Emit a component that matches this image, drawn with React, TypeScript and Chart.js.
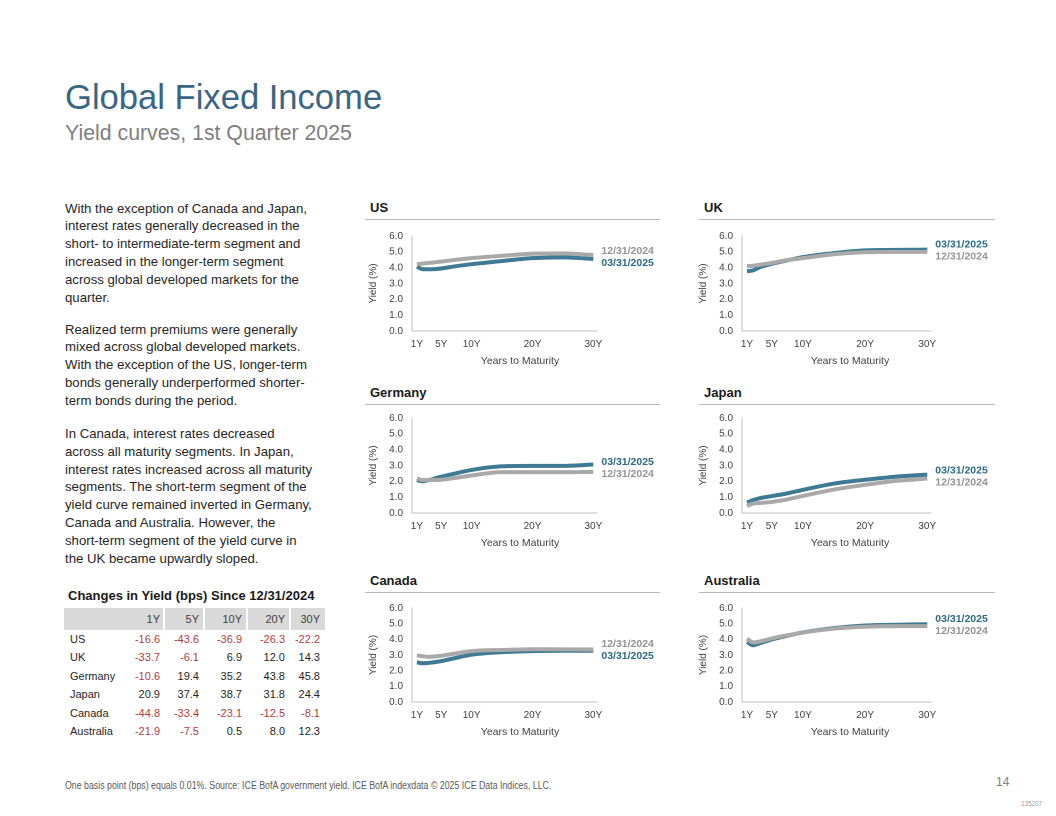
import React, { useEffect, useRef } from "react";
import { Chart, registerables } from "chart.js";

Chart.register(...registerables);

// ---------- DATA ----------
const maturities = [1, 2, 3, 5, 7, 10, 15, 20, 25, 30];
const xTickYears = [1, 5, 10, 20, 30];
const seriesLabels = ["12/31/2024", "03/31/2025"];

const usDec2024 = [4.22, 4.26, 4.3, 4.38, 4.48, 4.6, 4.75, 4.88, 4.9, 4.8];
const usMar2025 = [4.07, 3.9, 3.9, 3.95, 4.07, 4.22, 4.42, 4.6, 4.65, 4.55];
const ukDec2024 = [4.1, 4.12, 4.18, 4.3, 4.45, 4.6, 4.85, 4.97, 5.0, 5.0];
const ukMar2025 = [3.78, 3.83, 4.02, 4.24, 4.42, 4.67, 4.92, 5.09, 5.12, 5.14];
const deDec2024 = [2.18, 2.08, 2.08, 2.1, 2.2, 2.37, 2.58, 2.58, 2.58, 2.6];
const deMar2025 = [2.08, 2.0, 2.08, 2.29, 2.47, 2.72, 2.95, 2.98, 2.98, 3.06];
const jpDec2024 = [0.45, 0.6, 0.63, 0.7, 0.82, 1.08, 1.48, 1.78, 2.03, 2.18];
const jpMar2025 = [0.66, 0.82, 0.93, 1.07, 1.2, 1.46, 1.86, 2.1, 2.3, 2.42];
const caDec2024 = [2.98, 2.92, 2.88, 2.95, 3.08, 3.25, 3.32, 3.37, 3.36, 3.35];
const caMar2025 = [2.53, 2.47, 2.5, 2.61, 2.78, 3.02, 3.18, 3.25, 3.27, 3.27];
const auDec2024 = [4.04, 3.8, 3.86, 4.06, 4.22, 4.43, 4.68, 4.8, 4.84, 4.84];
const auMar2025 = [3.83, 3.62, 3.74, 3.99, 4.18, 4.44, 4.72, 4.88, 4.93, 4.96];

const tableTitle = "Changes in Yield (bps) Since 12/31/2024";
const tableCols = ["1Y", "5Y", "10Y", "20Y", "30Y"];
const tableRowNames = ["US", "UK", "Germany", "Japan", "Canada", "Australia"];
const usChange = [-16.6, -43.6, -36.9, -26.3, -22.2];
const ukChange = [-33.7, -6.1, 6.9, 12.0, 14.3];
const deChange = [-10.6, 19.4, 35.2, 43.8, 45.8];
const jpChange = [20.9, 37.4, 38.7, 31.8, 24.4];
const caChange = [-44.8, -33.4, -23.1, -12.5, -8.1];
const auChange = [-21.9, -7.5, 0.5, 8.0, 12.3];
const tableValues = [usChange, ukChange, deChange, jpChange, caChange, auChange];

// ---------- STYLE ----------
const FONT = '"Liberation Sans", Arial, Helvetica, sans-serif';
const GRAY_LINE = "#a9a9a9";
const BLUE_LINE = "#3e7a93";
const GRAY_LABEL = "#939393";
const BLUE_LABEL = "#2c6b82";
const AXIS = "#bfbfbf";
const TICK = "#404040";
const NEG = "#b33c43";

const paragraphs = [
  [
    "With the exception of Canada and Japan,",
    "interest rates generally decreased in the",
    "short- to intermediate-term segment and",
    "increased in the longer-term segment",
    "across global developed markets for the",
    "quarter.",
  ],
  [
    "Realized term premiums were generally",
    "mixed across global developed markets.",
    "With the exception of the US, longer-term",
    "bonds generally underperformed shorter-",
    "term bonds during the period.",
  ],
  [
    "In Canada, interest rates decreased",
    "across all maturity segments. In Japan,",
    "interest rates increased across all maturity",
    "segments. The short-term segment of the",
    "yield curve remained inverted in Germany,",
    "Canada and Australia. However, the",
    "short-term segment of the yield curve in",
    "the UK became upwardly sloped.",
  ],
];
const paragraphTops = [199.6, 320.6, 425];

type Panel = { title: string; dec: number[]; mar: number[]; col: number; row: number };
const panels: Panel[] = [
  { title: "US", dec: usDec2024, mar: usMar2025, col: 0, row: 0 },
  { title: "UK", dec: ukDec2024, mar: ukMar2025, col: 1, row: 0 },
  { title: "Germany", dec: deDec2024, mar: deMar2025, col: 0, row: 1 },
  { title: "Japan", dec: jpDec2024, mar: jpMar2025, col: 1, row: 1 },
  { title: "Canada", dec: caDec2024, mar: caMar2025, col: 0, row: 2 },
  { title: "Australia", dec: auDec2024, mar: auMar2025, col: 1, row: 2 },
];

const colCanvasLeft = [360, 690];
const colCanvasWidth = [307, 311];
const colTitleLeft = [370, 704];
const colRuleLeft = [365, 699];
const colRuleWidth = [295, 296];
const rowRuleY = [219, 404, 592];
const rowAreaTop = [234, 416, 605.5];
const rowAreaBottom = [331, 513, 701];
const PAD_TOP = 13;
const X_AXIS_H = 40;
const Y_AXIS_W = 52;

function YieldChart({ panel }: { panel: Panel }) {
  const ref = useRef<HTMLCanvasElement>(null);
  const w = colCanvasWidth[panel.col];
  const plotH = rowAreaBottom[panel.row] - rowAreaTop[panel.row];
  const h = Math.round(plotH + PAD_TOP + X_AXIS_H);

  useEffect(() => {
    const endLabels = {
      id: "endLabels",
      afterDatasetsDraw(chart: any) {
        const ctx = chart.ctx;
        const items = chart.data.datasets.map((ds: any, i: number) => {
          const meta = chart.getDatasetMeta(i);
          const last = meta.data[meta.data.length - 1];
          return { text: ds.label, color: ds.labelColor, x: last.x, y: last.y };
        });
        items.sort((a: any, b: any) => a.y - b.y);
        const sep = 12;
        if (items[1].y - items[0].y < sep) {
          const mid = (items[0].y + items[1].y) / 2;
          items[0].y = mid - sep / 2;
          items[1].y = mid + sep / 2;
        }
        ctx.save();
        ctx.font = `bold 10.5px ${FONT}`;
        ctx.textBaseline = "middle";
        ctx.textAlign = "left";
        items.forEach((it: any) => {
          ctx.fillStyle = it.color;
          ctx.fillText(it.text, it.x + 8, it.y);
        });
        ctx.restore();
      },
    };
    const xTitle = {
      id: "xTitle",
      afterDraw(chart: any) {
        const ctx = chart.ctx;
        const a = chart.chartArea;
        ctx.save();
        ctx.font = `10.5px ${FONT}`;
        ctx.fillStyle = TICK;
        ctx.textAlign = "center";
        ctx.textBaseline = "middle";
        ctx.fillText("Years to Maturity", a.left + 108, a.bottom + 30);
        ctx.restore();
      },
    };

    const chart = new Chart(ref.current as HTMLCanvasElement, {
      type: "line",
      data: {
        datasets: [
          {
            label: seriesLabels[0],
            data: maturities.map((m, i) => ({ x: m, y: panel.dec[i] })),
            borderColor: GRAY_LINE,
            labelColor: GRAY_LABEL,
          } as any,
          {
            label: seriesLabels[1],
            data: maturities.map((m, i) => ({ x: m, y: panel.mar[i] })),
            borderColor: BLUE_LINE,
            labelColor: BLUE_LABEL,
          } as any,
        ],
      },
      options: {
        animation: false,
        responsive: false,
        devicePixelRatio: 2,
        layout: { padding: { top: PAD_TOP, right: 70, left: 0, bottom: 0 } },
        plugins: { legend: { display: false }, tooltip: { enabled: false } },
        elements: {
          point: { radius: 0 },
          line: {
            borderWidth: 4,
            cubicInterpolationMode: "monotone",
            borderCapStyle: "butt",
            borderJoinStyle: "round",
          },
        },
        scales: {
          x: {
            type: "linear",
            min: 0.2,
            max: 30.6,
            afterBuildTicks: (s: any) => {
              s.ticks = xTickYears.map((v) => ({ value: v }));
            },
            afterFit: (s: any) => {
              s.height = X_AXIS_H;
            },
            grid: { display: false, drawTicks: false },
            border: { display: true, color: AXIS, width: 1 },
            ticks: {
              autoSkip: false,
              maxRotation: 0,
              padding: 7,
              color: TICK,
              font: { family: FONT, size: 10 },
              callback: (v: any) => `${v}Y`,
            },
          },
          y: {
            min: 0,
            max: 6,
            afterFit: (s: any) => {
              s.width = Y_AXIS_W;
            },
            grid: { display: false, drawTicks: false },
            border: { display: true, color: AXIS, width: 1 },
            ticks: {
              stepSize: 1,
              padding: 9,
              color: TICK,
              font: { family: FONT, size: 10 },
              callback: (v: any) => Number(v).toFixed(1),
            },
            title: {
              display: true,
              text: "Yield (%)",
              color: TICK,
              font: { family: FONT, size: 10 },
              padding: { top: 7, bottom: 0 },
            },
          },
        },
      } as any,
      plugins: [endLabels, xTitle],
    });
    return () => chart.destroy();
  }, [panel]);

  return (
    <canvas
      ref={ref}
      width={w}
      height={h}
      style={{
        position: "absolute",
        left: colCanvasLeft[panel.col],
        top: rowAreaTop[panel.row] - PAD_TOP,
        width: w,
        height: h,
      }}
    />
  );
}

function fmt(v: number) {
  return v.toFixed(1);
}

// header cells: [label + 1Y], 5Y, 10Y, 20Y, 30Y
const headerLefts = [64, 165, 205, 248, 291];
const headerRights = [165, 205, 248, 291, 325];
// right edges of value text per column (1Y..30Y)
const valueRights = [160, 199, 242, 285, 320];

export default function App() {
  return (
    <div
      style={{
        position: "absolute",
        left: 0,
        top: 0,
        width: 1056,
        height: 816,
        background: "#ffffff",
        overflow: "hidden",
        fontFamily: FONT,
      }}
    >
      <div
        style={{
          position: "absolute",
          left: 65,
          top: 80,
          fontSize: 34.6,
          lineHeight: "34.6px",
          color: "#3b6683",
          whiteSpace: "nowrap",
        }}
      >
        Global Fixed Income
      </div>
      <div
        style={{
          position: "absolute",
          left: 65,
          top: 122.8,
          fontSize: 21.3,
          lineHeight: "21.3px",
          color: "#7f7f7f",
          whiteSpace: "nowrap",
        }}
      >
        Yield curves, 1st Quarter 2025
      </div>

      {paragraphs.map((lines, pi) => (
        <div
          key={pi}
          style={{
            position: "absolute",
            left: 65,
            top: paragraphTops[pi],
            fontSize: 13.2,
            lineHeight: "17.8px",
            color: "#262626",
            whiteSpace: "nowrap",
          }}
        >
          {lines.map((l, li) => (
            <div key={li}>{l}</div>
          ))}
        </div>
      ))}

      {/* table */}
      <div
        style={{
          position: "absolute",
          left: 68,
          top: 589,
          fontSize: 13,
          lineHeight: "13px",
          fontWeight: "bold",
          color: "#1a1a1a",
          whiteSpace: "nowrap",
        }}
      >
        {tableTitle}
      </div>
      {headerLefts.map((l, hi) => (
        <div
          key={"hb" + hi}
          style={{
            position: "absolute",
            left: l,
            top: 608,
            width: headerRights[hi] - l - (hi < 4 ? 2 : 0),
            height: 22,
            background: "#d9d9d9",
          }}
        />
      ))}
      {tableCols.map((c, ci) => (
        <div
          key={"h" + ci}
          style={{
            position: "absolute",
            left: valueRights[ci] - 40,
            width: 40,
            top: 608,
            height: 22,
            fontSize: 11,
            lineHeight: "22px",
            color: "#404040",
            textAlign: "right",
            whiteSpace: "nowrap",
          }}
        >
          {c}
        </div>
      ))}
      {tableRowNames.map((name, ri) => (
        <React.Fragment key={name}>
          <div
            style={{
              position: "absolute",
              left: 70,
              top: 630 + ri * 18.4,
              height: 18.4,
              fontSize: 11,
              lineHeight: "18.4px",
              color: "#262626",
              whiteSpace: "nowrap",
            }}
          >
            {name}
          </div>
          {tableValues[ri].map((v, ci) => (
            <div
              key={ci}
              style={{
                position: "absolute",
                left: valueRights[ci] - 40,
                width: 40,
                top: 630 + ri * 18.4,
                height: 18.4,
                fontSize: 11,
                lineHeight: "18.4px",
                textAlign: "right",
                color: v < 0 ? NEG : "#262626",
                whiteSpace: "nowrap",
              }}
            >
              {fmt(v)}
            </div>
          ))}
        </React.Fragment>
      ))}

      {/* panels */}
      {panels.map((p) => (
        <React.Fragment key={p.title}>
          <div
            style={{
              position: "absolute",
              left: colTitleLeft[p.col],
              top: rowRuleY[p.row] - 18.5,
              fontSize: 13,
              lineHeight: "13px",
              fontWeight: "bold",
              color: "#1a1a1a",
              whiteSpace: "nowrap",
            }}
          >
            {p.title}
          </div>
          <div
            style={{
              position: "absolute",
              left: colRuleLeft[p.col],
              top: rowRuleY[p.row],
              width: colRuleWidth[p.col],
              height: 1,
              background: "#b8b8b8",
            }}
          />
          <YieldChart panel={p} />
        </React.Fragment>
      ))}

      {/* footer */}
      <div
        style={{
          position: "absolute",
          left: 65,
          top: 780.5,
          fontSize: 10,
          lineHeight: "10px",
          color: "#595959",
          whiteSpace: "nowrap",
          transform: "scaleX(0.88)",
          transformOrigin: "0 0",
        }}
      >
        One basis point (bps) equals 0.01%. Source: ICE BofA government yield. ICE BofA indexdata © 2025 ICE Data Indices, LLC.
      </div>
      <div
        style={{
          position: "absolute",
          left: 996,
          top: 776,
          fontSize: 12,
          lineHeight: "12px",
          color: "#7f7f7f",
        }}
      >
        14
      </div>
      <div
        style={{
          position: "absolute",
          left: 1021,
          top: 800,
          fontSize: 7,
          lineHeight: "7px",
          color: "#a0a0a0",
          transform: "scaleX(0.9)",
          transformOrigin: "0 0",
        }}
      >
        135207
      </div>
    </div>
  );
}
